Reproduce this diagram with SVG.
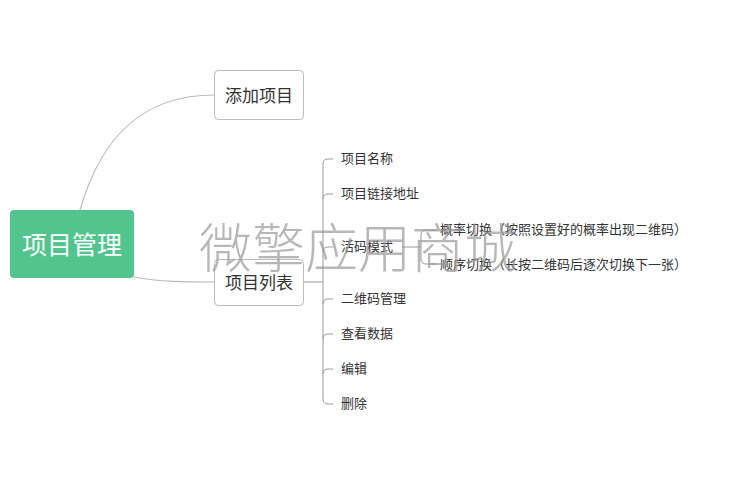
<svg xmlns="http://www.w3.org/2000/svg" width="735" height="492" viewBox="0 0 735 492">
<style>
.t{font-family:"Noto Sans CJK SC","Liberation Sans",sans-serif;fill:#333}
.s{font-size:13px}
.box{fill:#fff;stroke:#bbb;stroke-width:1}
.c{fill:none;stroke:#bbb;stroke-width:1.2}
.b{fill:none;stroke:#999;stroke-width:1}
</style>
<rect width="735" height="492" fill="#fff"/>
<g id="connectors">
<path class="c" d="M80 210 C100 140 140 95 214 95"/>
<path class="c" d="M134 277 C160 282 185 282 214 282"/>
<path class="b" d="M303 282 H323"/>
<path class="b" d="M323 164 V399"/>
<path class="b" d="M323 164 Q323 159 328 159 H333"/>
<path class="b" d="M328 194 H333"/>
<path class="b" d="M323 199 Q323 194 328 194"/>
<path class="b" d="M323 252 Q323 247 328 247 H333"/>
<path class="b" d="M323 304 Q323 299 328 299 H333"/>
<path class="b" d="M323 339 Q323 334 328 334 H333"/>
<path class="b" d="M323 374 Q323 369 328 369 H333"/>
<path class="b" d="M323 399 Q323 404 328 404 H333"/>
<path class="b" d="M402 247 H421"/>
<path class="b" d="M421 235 V259"/>
<path class="b" d="M421 235 Q421 230 426 230 H437"/>
<path class="b" d="M421 259 Q421 264 426 264 H437"/>
</g>
<g id="root">
<rect x="10" y="210" width="124" height="68" rx="4" fill="#52c58e"/>
<text class="t" x="72" y="254" font-size="25" text-anchor="middle" style="fill:#fff">项目管理</text>
</g>
<g id="add">
<rect class="box" x="214.5" y="70.5" width="89" height="49" rx="4"/>
<text class="t" x="259" y="102" font-size="17" text-anchor="middle">添加项目</text>
</g>
<g id="list">
<rect class="box" x="214.5" y="259.5" width="89" height="46" rx="4"/>
<text class="t" x="259" y="289" font-size="17" text-anchor="middle">项目列表</text>
</g>
<g id="n1"><text class="t s" x="341" y="163">项目名称</text></g>
<g id="n2"><text class="t s" x="341" y="198">项目链接地址</text></g>
<g id="n3"><text class="t s" x="341" y="251">活码模式</text></g>
<g id="n31"><text class="t s" x="440" y="234">概率切换（按照设置好的概率出现二维码）</text></g>
<g id="n32"><text class="t s" x="440" y="269">顺序切换（长按二维码后逐次切换下一张）</text></g>
<g id="n4"><text class="t s" x="341" y="303">二维码管理</text></g>
<g id="n5"><text class="t s" x="341" y="338">查看数据</text></g>
<g id="n6"><text class="t s" x="341" y="373">编辑</text></g>
<g id="n7"><text class="t s" x="341" y="408">删除</text></g>
<text x="199" y="268" font-family="Noto Sans CJK SC,sans-serif" font-size="53" font-weight="300" fill="#999" fill-opacity="0.7">微擎应用商城</text>
</svg>
